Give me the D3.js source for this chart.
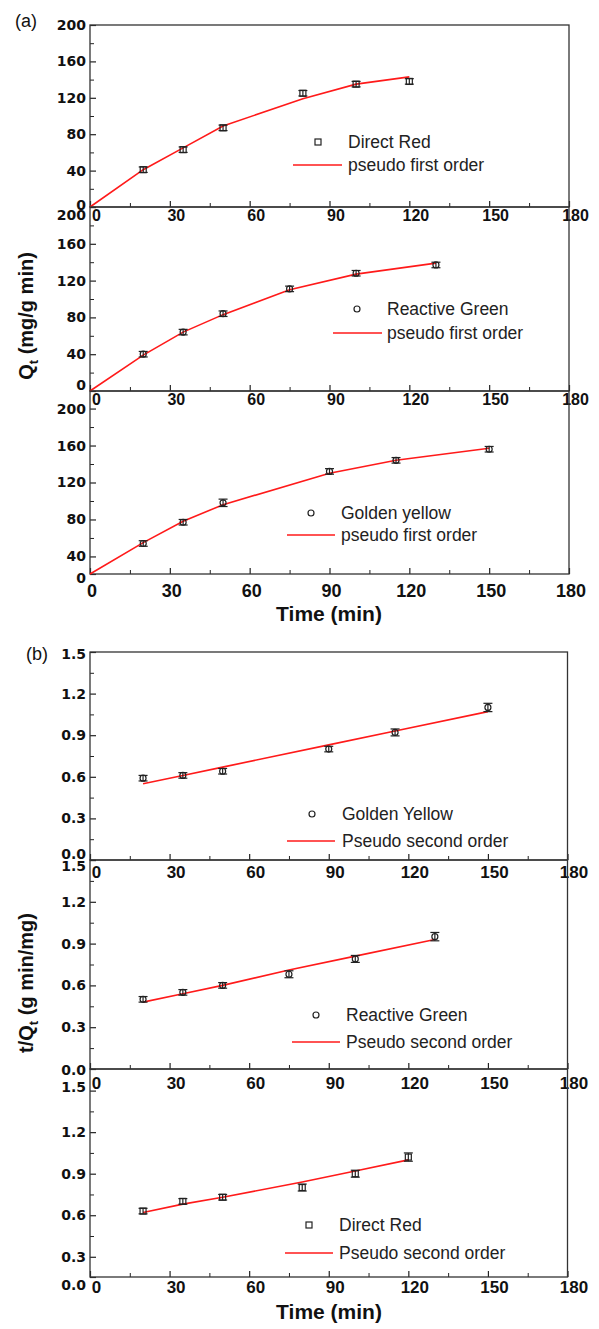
<!DOCTYPE html>
<html>
<head>
<meta charset="utf-8">
<script src="https://cdn.jsdelivr.net/npm/d3@7"></script>
<style>
body{margin:0;background:#fff;}
</style>
</head>
<body>
<svg id="chart" width="599" height="1329"></svg>
<script>
// tick labels
var timeTicks = [0, 30, 60, 90, 120, 150, 180];
var timeMinor = [15, 45, 75, 105, 135, 165];
var qTicks = [0, 40, 80, 120, 160, 200];
var qMinor = [20, 60, 100, 140, 180];
var tqTicks = [0, 0.3, 0.6, 0.9, 1.2, 1.5];
var tqMinor = [0.15, 0.45, 0.75, 1.05, 1.35];

// (a) pseudo first order : Qt (mg/g min)
var timeDR = [20, 35, 50, 80, 100, 120];
var qDR = [41, 63, 87, 125, 135, 138];
var qDRerr = [3, 3, 3, 3, 3, 3];
var fitTimeDR = [0, 20, 35, 50, 80, 100, 120];
var qDRfit = [0, 41, 65, 89, 119, 135, 143];

var timeRG = [20, 35, 50, 75, 100, 130];
var qRG = [40, 64, 84, 111, 128, 137];
var qRGerr = [3, 3, 3, 3, 3, 3];
var fitTimeRG = [0, 20, 35, 50, 75, 100, 130];
var qRGfit = [0, 39, 64, 83, 110, 127, 139];

var timeGY = [20, 35, 50, 90, 115, 150];
var qGY = [54, 77, 98, 132, 144, 156];
var qGYerr = [3, 3, 4, 3, 3, 3];
var fitTimeGY = [0, 20, 35, 50, 90, 115, 150];
var qGYfit = [21, 55, 78, 96, 130, 144, 157];

// (b) pseudo second order : t/Qt (g min/mg)
var tqGY = [0.59, 0.61, 0.64, 0.80, 0.92, 1.10];
var tqGYerr = [0.02, 0.02, 0.02, 0.02, 0.025, 0.03];
var tqGYfit = [0.55, 0.61, 0.67, 0.83, 0.93, 1.07];

var tqRG = [0.50, 0.55, 0.60, 0.68, 0.79, 0.95];
var tqRGerr = [0.02, 0.02, 0.02, 0.025, 0.025, 0.03];
var tqRGfit = [0.48, 0.54, 0.60, 0.71, 0.81, 0.93];

var tqDR = [0.63, 0.70, 0.73, 0.80, 0.90, 1.02];
var tqDRerr = [0.02, 0.02, 0.02, 0.025, 0.025, 0.03];
var tqDRfit = [0.62, 0.68, 0.73, 0.84, 0.92, 1.00];

var FONT = "'Liberation Sans', Arial, sans-serif";
var YFONT = "'DejaVu Sans', sans-serif";
var INK = "#222";

var svg = d3.select("#chart");
svg.append("rect").attr("width", 599).attr("height", 1329).attr("fill", "#fff");

function panel(p) {
	var x = d3.scaleLinear().domain([0, 180]).range([p.left, p.right]);
	var y = d3.scaleLinear().domain(p.yDom).range([p.bottom, p.top]).clamp(true);
	var g = svg.append("g");
	var inY = function(v) { return v >= p.yDom[0] && v <= p.yDom[1]; };

	// x ticks (inside)
	var xm = g.append("g").attr("transform", "translate(0," + p.bottom + ")").attr("color", INK)
		.call(d3.axisBottom(x).tickValues(timeMinor).tickSize(-4).tickFormat(""));
	xm.select(".domain").remove();
	var xa = g.append("g").attr("transform", "translate(0," + p.bottom + ")").attr("color", INK)
		.call(d3.axisBottom(x).tickValues(timeTicks).tickSize(-6));
	xa.select(".domain").remove();
	xa.selectAll("line").attr("stroke-width", 1.2);
	xa.selectAll("text")
		.attr("y", p.xLabY).attr("dy", null).attr("dx", p.xLabDx)
		.attr("font-family", FONT).attr("font-weight", "bold")
		.attr("font-size", p.xLabSize).attr("fill", "#111");

	// y ticks (inside)
	var ym = g.append("g").attr("transform", "translate(" + p.left + ",0)").attr("color", INK)
		.call(d3.axisLeft(y).tickValues(p.yMinor.filter(inY)).tickSize(-4).tickFormat(""));
	ym.select(".domain").remove();
	var ya = g.append("g").attr("transform", "translate(" + p.left + ",0)").attr("color", INK)
		.call(d3.axisLeft(y).tickValues(p.yTicks).tickSize(-6).tickFormat(p.yFmt));
	ya.select(".domain").remove();
	ya.selectAll("line").attr("stroke-width", 1.2);
	ya.selectAll("text")
		.attr("x", -4)
		.attr("font-family", YFONT).attr("font-weight", "bold")
		.attr("font-size", 14).attr("fill", "#111")
		.attr("transform", function(d, i) {
			if (i === 0) return "translate(0," + p.zeroDy + ")";
			if (i === p.yTicks.length - 1) return "translate(0," + p.topDy + ")";
			return null;
		});

	// frame
	g.append("rect")
		.attr("x", p.left).attr("y", p.top)
		.attr("width", p.right - p.left).attr("height", p.bottom - p.top)
		.attr("fill", "none").attr("stroke", "#333").attr("stroke-width", 1.3);

	// fit line
	var line = d3.line().x(function(d) { return x(d[0]); }).y(function(d) { return y(d[1]); });
	g.append("path")
		.attr("d", line(d3.zip(p.fitT, p.fitV)))
		.attr("fill", "none").attr("stroke", "#ff1a1a").attr("stroke-width", 1.6);

	// error bars + markers
	var pts = d3.zip(p.t, p.v, p.err);
	var eb = g.append("g").attr("stroke", INK).attr("stroke-width", 1.2).attr("fill", "none");
	pts.forEach(function(d) {
		var cx = x(d[0]), y1 = y(d[1] - d[2]), y2 = y(d[1] + d[2]);
		eb.append("line").attr("x1", cx).attr("x2", cx).attr("y1", y1).attr("y2", y2);
		eb.append("line").attr("x1", cx - 4.5).attr("x2", cx + 4.5).attr("y1", y1).attr("y2", y1);
		eb.append("line").attr("x1", cx - 4.5).attr("x2", cx + 4.5).attr("y1", y2).attr("y2", y2);
		marker(eb, cx, y(d[1]), p.shape);
	});

	// legend
	var lg = p.legend;
	var lgm = g.append("g").attr("stroke", INK).attr("stroke-width", 1.2).attr("fill", "none");
	marker(lgm, lg.mx, lg.y1, p.shape);
	g.append("line")
		.attr("x1", lg.lx1).attr("x2", lg.lx2).attr("y1", lg.y2).attr("y2", lg.y2)
		.attr("stroke", "#ff1a1a").attr("stroke-width", 1.5);
	g.append("text").attr("x", lg.tx).attr("y", lg.y1).attr("dy", "0.35em")
		.attr("font-family", FONT).attr("font-size", 17.5).attr("fill", "#222").text(p.name);
	g.append("text").attr("x", lg.tx).attr("y", lg.y2).attr("dy", "0.35em")
		.attr("font-family", FONT).attr("font-size", 17.5).attr("fill", "#222").text(p.fitName);
}

function marker(sel, cx, cy, shape) {
	if (shape === "square")
		sel.append("rect").attr("x", cx - 3).attr("y", cy - 3).attr("width", 6).attr("height", 6);
	else
		sel.append("circle").attr("cx", cx).attr("cy", cy).attr("r", 3);
}

var fmtA = d3.format("d");
var fmtB = d3.format(".1f");

// (a)
panel({ left: 90, right: 569, top: 25, bottom: 207, yDom: [0, 200], yTicks: qTicks, yMinor: qMinor, yFmt: fmtA,
	zeroDy: -2, topDy: 0, xLabY: 14, xLabDx: 6, xLabSize: 16,
	t: timeDR, v: qDR, err: qDRerr, fitT: fitTimeDR, fitV: qDRfit, shape: "square",
	name: "Direct Red", fitName: "pseudo first order",
	legend: { mx: 318, tx: 348, y1: 142, y2: 165, lx1: 293, lx2: 342 } });
panel({ left: 90, right: 569, top: 207, bottom: 391, yDom: [0, 200], yTicks: qTicks, yMinor: qMinor, yFmt: fmtA,
	zeroDy: -6, topDy: 8, xLabY: 14, xLabDx: 6, xLabSize: 16,
	t: timeRG, v: qRG, err: qRGerr, fitT: fitTimeRG, fitV: qRGfit, shape: "circle",
	name: "Reactive Green", fitName: "pseudo first order",
	legend: { mx: 357, tx: 387, y1: 309, y2: 333, lx1: 333, lx2: 382 } });
panel({ left: 90, right: 569, top: 391, bottom: 574, yDom: [21, 219], yTicks: qTicks, yMinor: qMinor, yFmt: fmtA,
	zeroDy: 4, topDy: 0, xLabY: 23, xLabDx: 1.5, xLabSize: 18,
	t: timeGY, v: qGY, err: qGYerr, fitT: fitTimeGY, fitV: qGYfit, shape: "circle",
	name: "Golden yellow", fitName: "pseudo first order",
	legend: { mx: 311, tx: 341, y1: 513, y2: 535, lx1: 287, lx2: 335 } });

// (b)
panel({ left: 90, right: 567.5, top: 652, bottom: 860, yDom: [0, 1.5], yTicks: tqTicks, yMinor: tqMinor, yFmt: fmtB,
	zeroDy: -6, topDy: 2, xLabY: 18, xLabDx: 6, xLabSize: 17,
	t: timeGY, v: tqGY, err: tqGYerr, fitT: timeGY, fitV: tqGYfit, shape: "circle",
	name: "Golden Yellow", fitName: "Pseudo second order",
	legend: { mx: 312, tx: 342, y1: 814, y2: 841, lx1: 287, lx2: 335 } });
panel({ left: 90, right: 567.5, top: 860, bottom: 1069, yDom: [0, 1.5], yTicks: tqTicks, yMinor: tqMinor, yFmt: fmtB,
	zeroDy: 1, topDy: 6, xLabY: 20, xLabDx: 6, xLabSize: 17,
	t: timeRG, v: tqRG, err: tqRGerr, fitT: timeRG, fitV: tqRGfit, shape: "circle",
	name: "Reactive Green", fitName: "Pseudo second order",
	legend: { mx: 316, tx: 346, y1: 1015, y2: 1042, lx1: 292, lx2: 340 } });
panel({ left: 90, right: 567.5, top: 1069, bottom: 1277, yDom: [0.154, 1.656], yTicks: tqTicks, yMinor: tqMinor, yFmt: fmtB,
	zeroDy: 8, topDy: -4, xLabY: 16, xLabDx: 6, xLabSize: 17,
	t: timeDR, v: tqDR, err: tqDRerr, fitT: timeDR, fitV: tqDRfit, shape: "square",
	name: "Direct Red", fitName: "Pseudo second order",
	legend: { mx: 309, tx: 339, y1: 1225, y2: 1253, lx1: 285, lx2: 333 } });

// titles
function title(txt, x, y, size, weight, rot) {
	return svg.append("text")
		.attr("transform", "translate(" + x + "," + y + ")" + (rot ? " rotate(-90)" : ""))
		.attr("text-anchor", rot === null ? "start" : "middle")
		.attr("font-family", FONT).attr("font-size", size).attr("font-weight", weight)
		.attr("fill", "#111").text(txt);
}
title("(a)", 15, 27, 18, "normal", null);
title("(b)", 26, 660, 18, "normal", null);
title("Time (min)", 329, 621, 21, "bold", false);
title("Time (min)", 329, 1319, 21, "bold", false);

var qa = title("", 33, 316, 20, "bold", true);
qa.append("tspan").text("Q");
qa.append("tspan").attr("font-size", 13).attr("dy", 5).text("t");
qa.append("tspan").attr("dy", -5).text(" (mg/g min)");

var qb = title("", 33, 983, 20, "bold", true);
qb.append("tspan").text("t/Q");
qb.append("tspan").attr("font-size", 13).attr("dy", 5).text("t");
qb.append("tspan").attr("dy", -5).text(" (g min/mg)");
</script>
</body>
</html>
